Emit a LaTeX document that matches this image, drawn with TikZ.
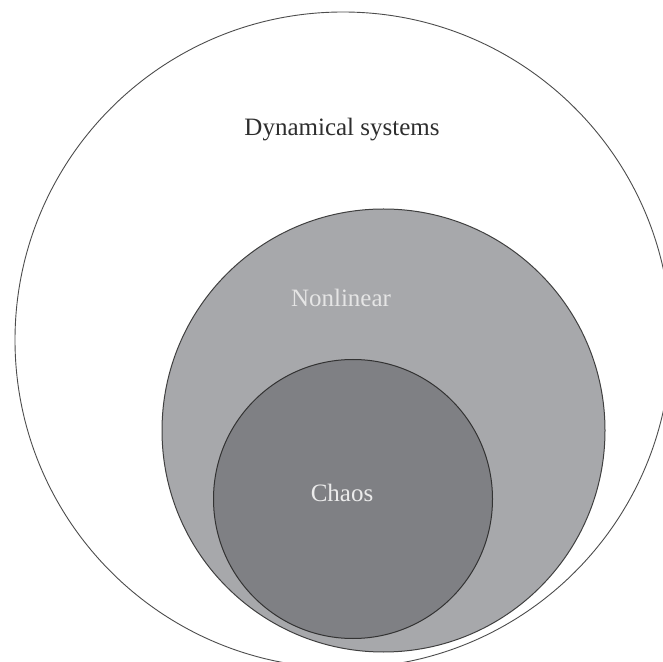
\documentclass[tikz,border=0pt]{standalone}
\usepackage{fontspec}
\setmainfont{Liberation Serif}
\usepackage{tikz}
\definecolor{nonlinGray}{HTML}{A7A8AB}
\definecolor{chaosGray}{HTML}{7F8084}
\definecolor{labelGray}{HTML}{2E2E2E}

\begin{document}
\begin{tikzpicture}[line cap=round,line join=round,x=1pt,y=1pt,
  setlabel/.style={anchor=base,font=\fontsize{25}{30}\selectfont}]
  \useasboundingbox (0,0) rectangle (663,661);
  \clip (0,0) rectangle (663,661);
  % the three nested sets
  \draw[color=black!70,line width=0.9pt] (343,321) circle (328);
  \filldraw[fill=nonlinGray,draw=black!75,line width=1pt] (383.5,230.5) circle (221.5);
  \filldraw[fill=chaosGray,draw=black!80,line width=1pt] (353,162) circle (139.5);
  % labels
  \node[setlabel,text=labelGray] (dyn) at (342,525) {Dynamical systems};
  \node[setlabel,text=white!90!black] (nonlin) at (341,354.5) {Nonlinear};
  \node[setlabel,text=white!92!black] (chaos) at (342,159) {Chaos};
\end{tikzpicture}
\end{document}
